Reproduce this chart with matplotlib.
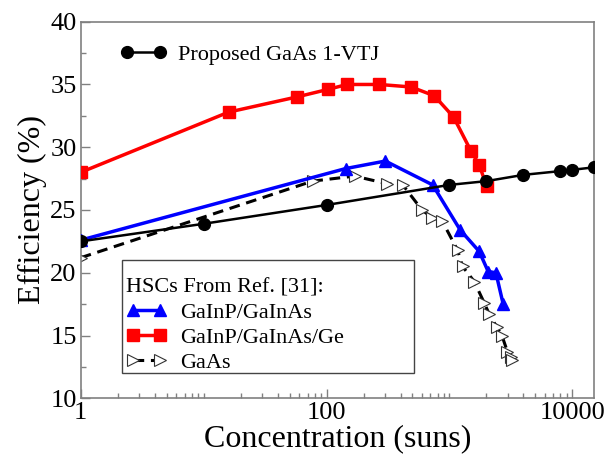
import numpy as np
import matplotlib
matplotlib.use("Agg")
import matplotlib.pyplot as plt
from matplotlib.patches import Rectangle
from matplotlib.ticker import FixedLocator, MultipleLocator, NullFormatter

plt.rcParams["font.family"] = ["Liberation Serif", "DejaVu Serif"]

# Proposed GaAs 1-VTJ
proposed_x = [1, 10, 100, 1000, 2000, 4000, 8000, 10000, 15000]
proposed_y = [22.5, 23.9, 25.4, 27.0, 27.3, 27.8, 28.1, 28.2, 28.4]

# HSCs from Ref. [31]
gainp_gainas_x = [1, 143, 301, 730, 1225, 1747, 2066, 2387, 2737]
gainp_gainas_y = [22.6, 28.3, 28.9, 27.0, 23.4, 21.7, 20.1, 20.0, 17.5]

gainp_gainas_ge_x = [1, 16, 57, 102, 147, 269, 487, 753, 1081, 1497, 1747, 2004]
gainp_gainas_ge_y = [28.0, 32.8, 34.0, 34.6, 35.0, 35.0, 34.8, 34.1, 32.4, 29.7, 28.6, 26.9]

gaas_x = [1, 77, 169, 310, 417, 598, 722, 870, 1164, 1279, 1592, 1918, 2107,
          2417, 2672, 2966, 3162, 3258]
gaas_y = [21.2, 27.3, 27.7, 27.1, 27.0, 25.0, 24.4, 24.15, 21.8, 20.5, 19.3, 17.6,
          16.7, 15.7, 15.0, 13.7, 13.3, 13.05]

fig = plt.figure(figsize=(6.13, 4.54), dpi=100)
ax = fig.add_axes([0.1317, 0.1227, 0.8373, 0.8295])

gaas, = ax.plot(gaas_x, gaas_y, color="black", lw=2.2, ls=(0, (3.5, 2.2)),
                marker=">", ms=8, mfc="white", mec="#333333", mew=0.8,
                label="GaAs", zorder=2)
ge, = ax.plot(gainp_gainas_ge_x, gainp_gainas_ge_y, color="#ff0000", lw=2.5,
              marker="s", ms=8.5, mec="#ff0000", label="GaInP/GaInAs/Ge", zorder=3)
gi, = ax.plot(gainp_gainas_x, gainp_gainas_y, color="#0000ff", lw=2.5,
              marker="^", ms=8.5, mec="#0000ff", label="GaInP/GaInAs", zorder=4)
prop, = ax.plot(proposed_x, proposed_y, color="black", lw=1.8,
                marker="o", ms=8.5, label="Proposed GaAs 1-VTJ", zorder=5)

ax.set_xscale("log")
ax.set_xlim(1, 15000)
ax.set_ylim(10, 40)

ax.xaxis.set_major_locator(FixedLocator([1, 100, 10000]))
ax.set_xticklabels(["1", "100", "10000"])
minor = [m * 10 ** k for k in range(4) for m in range(2, 11)]
ax.xaxis.set_minor_locator(FixedLocator(minor))
ax.xaxis.set_minor_formatter(NullFormatter())
ax.yaxis.set_major_locator(MultipleLocator(5))
ax.yaxis.set_minor_locator(MultipleLocator(2.5))

for s in ax.spines.values():
    s.set_color("#808080")
    s.set_linewidth(1.2)
ax.tick_params(which="both", direction="in", top=False, right=False,
               color="#808080", width=1.0, labelsize=19, pad=3)
ax.tick_params(which="major", length=6.5)
ax.tick_params(which="minor", length=3.5)

ax.set_xlabel("Concentration (suns)", fontsize=23, labelpad=0)
ax.set_ylabel("Efficiency (%)", fontsize=23, labelpad=2)

leg1 = ax.legend(handles=[prop], loc="upper left", bbox_to_anchor=(0.0766, 0.939),
                 frameon=False, fontsize=16, numpoints=2, handlelength=2.09,
                 handletextpad=0.5, borderaxespad=0, borderpad=0)
ax.add_artist(leg1)

# boxed legend for the reference cells
box = Rectangle((0.0799, 0.0664), 0.5694, 0.3008, transform=ax.transAxes,
                facecolor="white", edgecolor="#444444", lw=1.0, zorder=6)
ax.add_patch(box)
leg2 = ax.legend(handles=[gi, ge, gaas], loc="upper left",
                 bbox_to_anchor=(0.0888, 0.3173), borderaxespad=0, borderpad=0,
                 title="HSCs From Ref. [31]:", title_fontsize=16, fontsize=16,
                 numpoints=2, handlelength=1.82, handletextpad=0.6,
                 alignment="left", frameon=False, labelspacing=0.2)
leg2.set_zorder(7)

fig.savefig("out.png", dpi=100)
